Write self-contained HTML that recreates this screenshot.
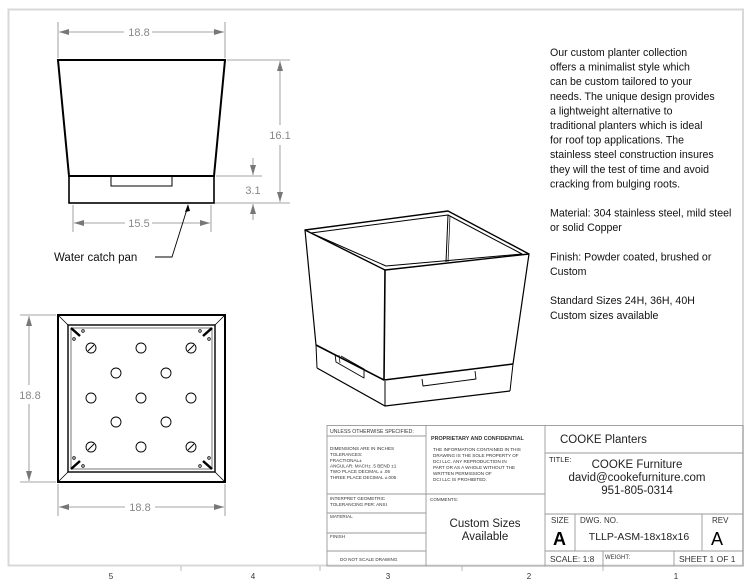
<!DOCTYPE html>
<html><head><meta charset="utf-8"><style>
html,body{margin:0;padding:0;background:#fff;}
svg{display:block;}
text{font-family:"Liberation Sans",sans-serif;}
</style></head><body>
<svg width="753" height="585" viewBox="0 0 753 585" xmlns="http://www.w3.org/2000/svg">
<defs>
<marker id="ar" viewBox="0 0 10 6" refX="10" refY="3" markerWidth="10" markerHeight="6" orient="auto-start-reverse" markerUnits="userSpaceOnUse"><path d="M0,0 L10,3 L0,6 z" fill="#777"/></marker>
</defs>
<rect width="753" height="585" fill="#fff"/>
<!-- frame -->
<rect x="8.5" y="9.5" width="734.5" height="556" fill="none" stroke="#d8d8d8" stroke-width="2"/>
<!-- bottom zone ticks and numbers -->
<g stroke="#bbb" stroke-width="1">
<line x1="181" y1="566" x2="181" y2="571"/><line x1="320" y1="566" x2="320" y2="571"/><line x1="462" y1="566" x2="462" y2="571"/><line x1="603" y1="566" x2="603" y2="571"/>
</g>
<g font-size="8" fill="#333" text-anchor="middle">
<text x="111" y="579">5</text><text x="253" y="579">4</text><text x="388" y="579">3</text><text x="529" y="579">2</text><text x="676" y="579">1</text>
</g>

<!-- FRONT VIEW -->
<g stroke="#000" fill="none">
<polygon points="58,60 225,60 214,176 69,176" stroke-width="2"/>
<rect x="69" y="176" width="145" height="27" stroke-width="1.6"/>
<polyline points="111,177 111,186 172,186 172,177" stroke-width="1"/>
</g>
<g stroke="#888" stroke-width="0.8" fill="none">
<line x1="58" y1="22" x2="58" y2="58"/><line x1="225" y1="22" x2="225" y2="58"/>
<line x1="59" y1="32" x2="124" y2="32" marker-start="url(#ar)"/><line x1="152" y1="32" x2="224" y2="32" marker-end="url(#ar)"/>
<line x1="73" y1="205" x2="73" y2="232"/><line x1="211" y1="205" x2="211" y2="232"/>
<line x1="74" y1="223" x2="125" y2="223" marker-start="url(#ar)"/><line x1="152" y1="223" x2="210" y2="223" marker-end="url(#ar)"/>
<line x1="227" y1="60" x2="290" y2="60"/><line x1="216" y1="176" x2="262" y2="176"/><line x1="215" y1="203" x2="290" y2="203"/>
<line x1="280" y1="61" x2="280" y2="125" marker-start="url(#ar)"/><line x1="280" y1="145" x2="280" y2="202" marker-end="url(#ar)"/>
<line x1="253" y1="158" x2="253" y2="175" marker-end="url(#ar)"/><line x1="253" y1="220" x2="253" y2="204" marker-end="url(#ar)"/>
</g>
<g font-size="11" fill="#888" text-anchor="middle">
<text x="139" y="36">18.8</text><text x="139" y="227">15.5</text>
<text x="280" y="139">16.1</text><text x="253" y="194">3.1</text>
</g>
<polyline points="188,206 172,257 155,257" fill="none" stroke="#000" stroke-width="0.9"/>
<path d="M188,204 L185,212 L190,211 z" fill="#000"/>
<text x="54" y="261" font-size="11.5" fill="#111">Water catch pan</text>

<!-- TOP VIEW -->
<g stroke="#000" fill="none">
<rect x="58" y="315" width="167" height="167" stroke-width="2"/>
<rect x="68" y="325" width="147" height="147" stroke-width="1.4"/>
<rect x="71" y="328" width="141" height="141" stroke-width="0.8" stroke="#555"/>
<line x1="58" y1="315" x2="68" y2="325" stroke-width="0.8"/><line x1="225" y1="315" x2="215" y2="325" stroke-width="0.8"/>
<line x1="58" y1="482" x2="68" y2="472" stroke-width="0.8"/><line x1="225" y1="482" x2="215" y2="472" stroke-width="0.8"/>
<g stroke-width="2.5"><line x1="71" y1="328" x2="80" y2="336"/><line x1="212" y1="328" x2="203" y2="336"/><line x1="71" y1="469" x2="80" y2="461"/><line x1="212" y1="469" x2="203" y2="461"/></g>
<g stroke-width="0.8">
<circle cx="83" cy="331" r="1.3"/><circle cx="74" cy="339" r="1.3"/><circle cx="200" cy="331" r="1.3"/><circle cx="209" cy="339" r="1.3"/>
<circle cx="74" cy="458" r="1.3"/><circle cx="83" cy="466" r="1.3"/><circle cx="209" cy="458" r="1.3"/><circle cx="200" cy="466" r="1.3"/>
</g>
<g stroke-width="0.9">
<circle cx="91" cy="348" r="5"/><circle cx="141" cy="348" r="5"/><circle cx="191" cy="348" r="5"/>
<circle cx="116" cy="373" r="5"/><circle cx="166" cy="373" r="5"/>
<circle cx="91" cy="398" r="5"/><circle cx="141" cy="398" r="5"/><circle cx="191" cy="398" r="5"/>
<circle cx="116" cy="422" r="5"/><circle cx="166" cy="422" r="5"/>
<circle cx="91" cy="447" r="5"/><circle cx="141" cy="447" r="5"/><circle cx="191" cy="447" r="5"/>
<line x1="88" y1="351" x2="94" y2="345"/><line x1="188" y1="351" x2="194" y2="345"/><line x1="88" y1="450" x2="94" y2="444"/><line x1="188" y1="450" x2="194" y2="444"/>
</g>
</g>
<g stroke="#888" stroke-width="0.8" fill="none">
<line x1="20" y1="315" x2="56" y2="315"/><line x1="20" y1="482" x2="56" y2="482"/>
<line x1="29" y1="316" x2="29" y2="385" marker-start="url(#ar)"/><line x1="29" y1="404" x2="29" y2="481" marker-end="url(#ar)"/>
<line x1="58" y1="484" x2="58" y2="516"/><line x1="225" y1="484" x2="225" y2="516"/>
<line x1="59" y1="507" x2="125" y2="507" marker-start="url(#ar)"/><line x1="155" y1="507" x2="224" y2="507" marker-end="url(#ar)"/>
</g>
<g font-size="11" fill="#888" text-anchor="middle">
<text x="30" y="399">18.8</text><text x="140" y="511">18.8</text>
</g>

<!-- ISO VIEW -->
<g stroke="#000" fill="none" stroke-linejoin="round">
<polygon points="305,230 448,211 529,254 385,270" stroke-width="1.4"/>
<polygon points="311,233 448,215 522,254 386,266" stroke-width="1"/>
<line x1="448" y1="215" x2="446" y2="262" stroke-width="1"/><line x1="450" y1="216" x2="448" y2="262" stroke-width="0.7"/>
<line x1="305" y1="230" x2="316" y2="345" stroke-width="1.2"/>
<line x1="385" y1="270" x2="384" y2="380" stroke-width="1.6"/>
<line x1="529" y1="254" x2="513" y2="364" stroke-width="1.2"/>
<polyline points="316,345 384,380 513,364" stroke-width="1.6"/>
<line x1="316" y1="345" x2="317" y2="368" stroke-width="1"/>
<line x1="385" y1="381" x2="385" y2="406" stroke-width="1"/>
<line x1="513" y1="364" x2="510" y2="391" stroke-width="1"/>
<polyline points="317,368 385,406 510,391" stroke-width="1.2"/>
<polyline points="422,379 423,386 476,379 475,371" stroke-width="0.9"/>
<polyline points="335,354 336,362 364,378 364,369 341,356" stroke-width="0.9"/>
<line x1="339" y1="355" x2="340" y2="363" stroke-width="0.7"/>
</g>

<!-- DESCRIPTION -->
<g font-size="10.6" fill="#111">
<text x="550" y="56">Our custom planter collection</text>
<text x="550" y="70.6">offers a minimalist style which</text>
<text x="550" y="85.2">can be custom tailored to your</text>
<text x="550" y="99.8">needs. The unique design provides</text>
<text x="550" y="114.4">a lightweight alternative to</text>
<text x="550" y="129">traditional planters which is ideal</text>
<text x="550" y="143.6">for roof top applications. The</text>
<text x="550" y="158.2">stainless steel construction insures</text>
<text x="550" y="172.8">they will the test of time and avoid</text>
<text x="550" y="187.4">cracking from bulging roots.</text>
<text x="550" y="216.6">Material: 304 stainless steel, mild steel</text>
<text x="550" y="231.2">or solid Copper</text>
<text x="550" y="260.4">Finish: Powder coated, brushed or</text>
<text x="550" y="275">Custom</text>
<text x="550" y="304.2">Standard Sizes 24H, 36H, 40H</text>
<text x="550" y="318.8">Custom sizes available</text>
</g>

<!-- TITLE BLOCK -->
<g stroke="#999" stroke-width="0.9" fill="none">
<rect x="327" y="425.5" width="416" height="140.5"/>
<line x1="426" y1="425" x2="426" y2="566"/><line x1="545" y1="425" x2="545" y2="566"/>
<line x1="327" y1="436" x2="426" y2="436"/>
<line x1="327" y1="494" x2="545" y2="494"/>
<line x1="327" y1="513" x2="426" y2="513"/><line x1="327" y1="533" x2="426" y2="533"/><line x1="327" y1="551" x2="426" y2="551"/>
<line x1="545" y1="453" x2="743" y2="453"/><line x1="545" y1="514" x2="743" y2="514"/><line x1="545" y1="551" x2="743" y2="551"/>
<line x1="575" y1="514" x2="575" y2="551"/><line x1="702" y1="514" x2="702" y2="551"/>
<line x1="603" y1="551" x2="603" y2="566"/><line x1="674" y1="551" x2="674" y2="566"/>
</g>
<g fill="#333" font-size="4.6">
<text x="330" y="433" font-size="5.2">UNLESS OTHERWISE SPECIFIED:</text>
<text x="330" y="450">DIMENSIONS ARE IN INCHES</text>
<text x="330" y="456">TOLERANCES:</text>
<text x="330" y="462">FRACTIONAL±</text>
<text x="330" y="467.5">ANGULAR: MACH±  .5   BEND ±1</text>
<text x="330" y="473">TWO PLACE DECIMAL    ± .05</text>
<text x="330" y="479">THREE PLACE DECIMAL  ±.005</text>
<text x="330" y="500">INTERPRET GEOMETRIC</text>
<text x="330" y="506">TOLERANCING PER: ANSI</text>
<text x="330" y="518">MATERIAL</text>
<text x="330" y="538">FINISH</text>
<text x="340" y="561">DO NOT SCALE DRAWING</text>
<text x="431" y="440" font-size="5.4" font-weight="bold">PROPRIETARY AND CONFIDENTIAL</text>
<text x="433" y="451">THE INFORMATION CONTAINED IN THIS</text>
<text x="433" y="457">DRAWING IS THE SOLE PROPERTY OF</text>
<text x="433" y="463">DCI LLC.  ANY REPRODUCTION IN</text>
<text x="433" y="469">PART OR AS A WHOLE WITHOUT THE</text>
<text x="433" y="475">WRITTEN PERMISSION OF</text>
<text x="433" y="481">DCI LLC IS PROHIBITED.</text>
<text x="430" y="501">COMMENTS:</text>
</g>
<g fill="#222" text-anchor="middle" font-size="11.5">
<text x="485" y="527">Custom Sizes</text>
<text x="485" y="540">Available</text>
</g>
<text x="560" y="443" font-size="11.5" fill="#222">COOKE Planters</text>
<text x="549" y="462" font-size="7.5" fill="#222">TITLE:</text>
<g text-anchor="middle" fill="#222" font-size="11.5">
<text x="637" y="468">COOKE Furniture</text>
<text x="637" y="481">david@cookefurniture.com</text>
<text x="637" y="494">951-805-0314</text>
</g>
<text x="551" y="523" font-size="8" fill="#333">SIZE</text>
<text x="553" y="545" font-size="18" font-weight="bold" fill="#000">A</text>
<text x="580" y="523" font-size="8" fill="#333">DWG.  NO.</text>
<text x="639" y="540" font-size="10.5" text-anchor="middle" fill="#222">TLLP-ASM-18x18x16</text>
<text x="712" y="523" font-size="8" fill="#333">REV</text>
<text x="711" y="545" font-size="18" fill="#000">A</text>
<text x="550" y="562" font-size="8.5" fill="#333">SCALE: 1:8</text>
<text x="605" y="559" font-size="6" fill="#333">WEIGHT:</text>
<text x="679" y="562" font-size="8.5" fill="#333">SHEET 1 OF 1</text>
</svg>
</body></html>
